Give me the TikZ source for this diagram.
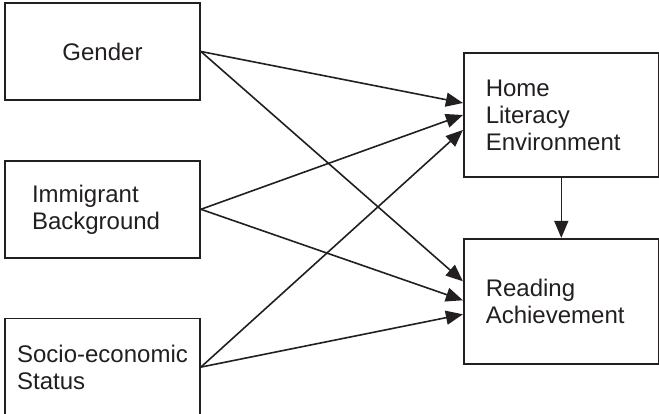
\documentclass[tikz,border=0pt]{standalone}
\usepackage{fontspec}
\setmainfont{Liberation Sans}
\usepackage{xcolor}
\usetikzlibrary{calc, arrows.meta, positioning}

\definecolor{ink}{RGB}{35,31,32}

\begin{document}
\begin{tikzpicture}[
    node distance=59bp,
    factor/.style={rectangle, draw=ink, line width=1.8bp, minimum width=195bp, minimum height=97bp, align=left, inner sep=0pt, text=ink, font=\fontsize{24bp}{27bp}\selectfont},
    outcome/.style={factor, minimum height=124bp, text width=151bp},
    path/.style={draw=ink, line width=1.6bp, -{Triangle[length=17bp, width=14bp]}}
]
    \useasboundingbox (0,0) rectangle (659bp,414bp);

    \node [factor] (gender) at (102.5bp,362.5bp) {Gender};
    \node [factor, below=of gender, text width=141bp] (immig) {Immigrant\\Background};
    \node [factor, below=of immig] (ses) {Socio-economic\\Status};
    \node [outcome, below right=50bp and 262bp of gender.north east] (home) {Home\\Literacy\\Environment};
    \node [outcome, below=60bp of home, minimum height=125bp] (read) {Reading\\Achievement};

    \draw [path] (gender.east) -- ([yshift=12bp]home.west);
    \draw [path] (gender.east) -- ([yshift=20bp]read.west);
    \draw [path] (immig.east) -- (home.west);
    \draw [path] (immig.east) -- ([yshift=1bp]read.west);
    \draw [path] (ses.east) -- ([yshift=-15bp]home.west);
    \draw [path] (ses.east) -- ([yshift=-13bp]read.west);
    \draw [path] (home.south) -- (read.north);
\end{tikzpicture}
\end{document}
